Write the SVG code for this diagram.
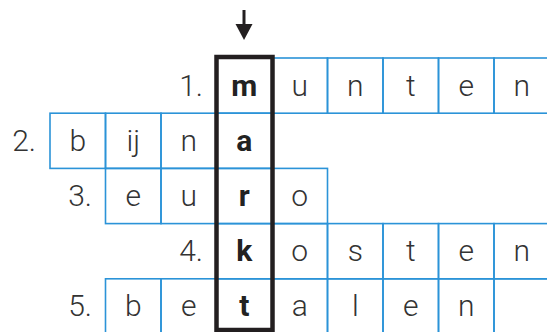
<svg xmlns="http://www.w3.org/2000/svg" width="547" height="332" viewBox="0 0 547 332">
<style>
.cell{fill:none;stroke:#2b93d8;stroke-width:1.6}
.t{font-family:Roboto,"Liberation Sans",sans-serif;font-weight:300;font-size:30px;fill:#333;text-anchor:middle}
.b{font-family:Roboto,"Liberation Sans",sans-serif;font-weight:700;font-size:30px;fill:#222;text-anchor:middle}
.n{font-family:Roboto,"Liberation Sans",sans-serif;font-weight:300;font-size:30px;fill:#333;text-anchor:end}
</style>
<rect width="547" height="332" fill="#fff"/>
<g id="row1">
<rect class="cell" x="216.5" y="58" width="55.5" height="55.2"/>
<rect class="cell" x="272" y="58" width="55.5" height="55.2"/>
<rect class="cell" x="327.5" y="58" width="55.5" height="55.2"/>
<rect class="cell" x="383" y="58" width="55.5" height="55.2"/>
<rect class="cell" x="438.5" y="58" width="55.5" height="55.2"/>
<rect class="cell" x="494" y="58" width="55.5" height="55.2"/>
<text class="n" x="203" y="95.5">1.</text>
<text class="b" x="244.25" y="95.5">m</text>
<text class="t" x="299.75" y="95.5">u</text>
<text class="t" x="355.25" y="95.5">n</text>
<text class="t" x="410.75" y="95.5">t</text>
<text class="t" x="466.25" y="95.5">e</text>
<text class="t" x="521.75" y="95.5">n</text>
</g>
<g id="row2">
<rect class="cell" x="50" y="113.2" width="55.5" height="55.2"/>
<rect class="cell" x="105.5" y="113.2" width="55.5" height="55.2"/>
<rect class="cell" x="161" y="113.2" width="55.5" height="55.2"/>
<rect class="cell" x="216.5" y="113.2" width="55.5" height="55.2"/>
<text class="n" x="36" y="150.7">2.</text>
<text class="t" x="77.75" y="150.7">b</text>
<text class="t" x="133.25" y="150.7">ij</text>
<text class="t" x="188.75" y="150.7">n</text>
<text class="b" x="244.25" y="150.7">a</text>
</g>
<g id="row3">
<rect class="cell" x="105.5" y="168.4" width="55.5" height="55.2"/>
<rect class="cell" x="161" y="168.4" width="55.5" height="55.2"/>
<rect class="cell" x="216.5" y="168.4" width="55.5" height="55.2"/>
<rect class="cell" x="272" y="168.4" width="55.5" height="55.2"/>
<text class="n" x="92" y="205.9">3.</text>
<text class="t" x="133.25" y="205.9">e</text>
<text class="t" x="188.75" y="205.9">u</text>
<text class="b" x="244.25" y="205.9">r</text>
<text class="t" x="299.75" y="205.9">o</text>
</g>
<g id="row4">
<rect class="cell" x="216.5" y="223.6" width="55.5" height="55.2"/>
<rect class="cell" x="272" y="223.6" width="55.5" height="55.2"/>
<rect class="cell" x="327.5" y="223.6" width="55.5" height="55.2"/>
<rect class="cell" x="383" y="223.6" width="55.5" height="55.2"/>
<rect class="cell" x="438.5" y="223.6" width="55.5" height="55.2"/>
<rect class="cell" x="494" y="223.6" width="55.5" height="55.2"/>
<text class="n" x="203" y="261.1">4.</text>
<text class="b" x="244.25" y="261.1">k</text>
<text class="t" x="299.75" y="261.1">o</text>
<text class="t" x="355.25" y="261.1">s</text>
<text class="t" x="410.75" y="261.1">t</text>
<text class="t" x="466.25" y="261.1">e</text>
<text class="t" x="521.75" y="261.1">n</text>
</g>
<g id="row5">
<rect class="cell" x="105.5" y="278.8" width="55.5" height="55.2"/>
<rect class="cell" x="161" y="278.8" width="55.5" height="55.2"/>
<rect class="cell" x="216.5" y="278.8" width="55.5" height="55.2"/>
<rect class="cell" x="272" y="278.8" width="55.5" height="55.2"/>
<rect class="cell" x="327.5" y="278.8" width="55.5" height="55.2"/>
<rect class="cell" x="383" y="278.8" width="55.5" height="55.2"/>
<rect class="cell" x="438.5" y="278.8" width="55.5" height="55.2"/>
<rect class="cell" x="494" y="278.8" width="55.5" height="55.2"/>
<text class="n" x="92" y="316.3">5.</text>
<text class="t" x="133.25" y="316.3">b</text>
<text class="t" x="188.75" y="316.3">e</text>
<text class="b" x="244.25" y="316.3">t</text>
<text class="t" x="299.75" y="316.3">a</text>
<text class="t" x="355.25" y="316.3">l</text>
<text class="t" x="410.75" y="316.3">e</text>
<text class="t" x="466.25" y="316.3">n</text>
</g>
<g id="solution-column">
<rect x="216.5" y="57" width="56" height="273" fill="none" stroke="#231f20" stroke-width="4.5"/>
</g>
<g id="connectors">
<line x1="244" y1="10" x2="244" y2="27" stroke="#231f20" stroke-width="3"/>
<polygon points="235.5,24 252.5,24 244,40" fill="#231f20"/>
</g>
</svg>
